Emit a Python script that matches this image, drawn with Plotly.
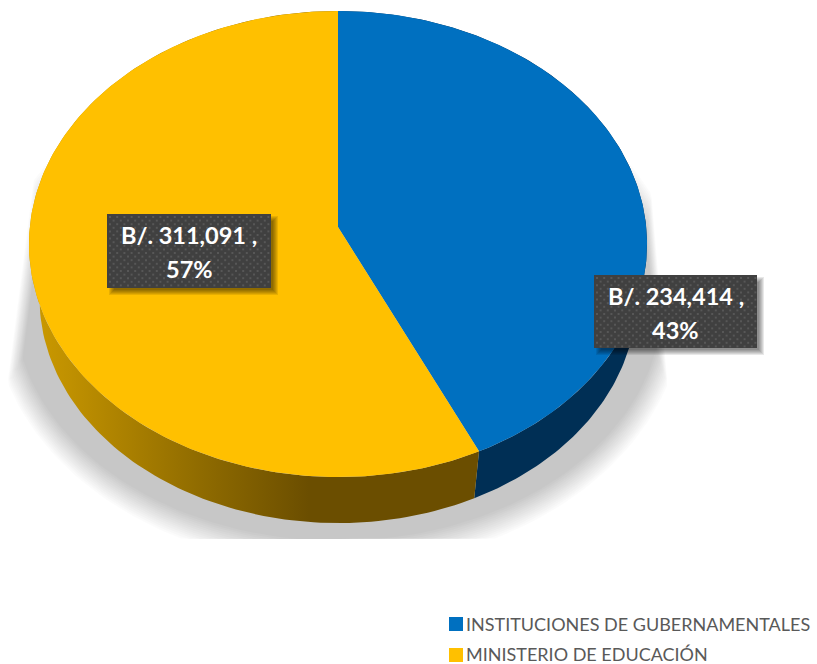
import numpy as np
import plotly.graph_objects as go

categories = ["INSTITUCIONES DE GUBERNAMENTALES", "MINISTERIO DE EDUCACIÓN"]
values = [234414, 311091]
top_colors = ["#0070C0", "#FFC000"]
FW, FH = 817, 664

# projected pie geometry (pixels on identity axes)
AX, AY = 338.0, 227.0
A, B, K = 308.2, 231.8, 0.073
BOT_AY, BOT_S = 281.5, 0.966


def rim(t, bottom=False):
    u, v = np.sin(t), np.cos(t)
    w = 1 + K * v
    X, Y = A * u / w, -B * v / w
    if bottom:
        return AX + BOT_S * X, BOT_AY + BOT_S * Y
    return AX + X, AY + Y


total = sum(values)
fracs = [v / total for v in values]
edges = np.cumsum([0] + fracs) * 2 * np.pi
fig = go.Figure()


def poly(x, y, color, name=None, **kw):
    fig.add_trace(go.Scatter(x=list(x), y=list(y), mode="lines", fill="toself",
                             fillcolor=color, line=dict(width=0), hoverinfo="skip",
                             showlegend=False, name=name, **kw))


# soft shadow under the pie: stacked translucent clipped ellipses
N = 14
tt = np.linspace(0, 2 * np.pi, 241)
for i in range(N):
    f = i / (N - 1)
    rx, ry = 346 - 22 * f, 262 - 26 * f
    cx, cy = 338, 305
    x = cx + rx * np.sin(tt)
    y = cy + ry * np.cos(tt)
    y = np.clip(y, 160 + 20 * f, 539)
    xl = np.maximum(35 - 0.13 * (y - 170) + 12 * f, 8 + 12 * f)
    xr = 649 + 0.085 * (y - 165) - 8 * f
    x = np.minimum(np.maximum(x, xl), xr)
    poly(x, y, "rgba(0,0,0,0.017)")

# side walls
side_scales = [
    [[0, "#001F3A"], [1, "#002F55"]],
    [[0, "#CC9A00"], [0.09, "#BF9000"], [0.38, "#8F6B00"], [0.62, "#6B4E00"], [1, "#6B4E00"]],
]
for i in range(2):
    t = np.linspace(edges[i], edges[i + 1], 160)
    xa, ya = rim(t)
    xb, yb = rim(t, True)
    x = np.concatenate([xa, xb[::-1], xa[:1]])
    y = np.concatenate([ya, yb[::-1], ya[:1]])
    if i == 0:
        poly(x, y, "#002F55")
    else:
        fig.add_trace(go.Scatter(
            x=list(x), y=list(y), mode="lines", fill="toself", line=dict(width=0),
            hoverinfo="skip", showlegend=False,
            fillgradient=dict(type="horizontal", start=30, stop=480, colorscale=side_scales[1])))

# top face
for i in range(2):
    t = np.linspace(edges[i], edges[i + 1], 240)
    xa, ya = rim(t)
    poly(np.concatenate([[AX], xa, [AX]]), np.concatenate([[AY], ya, [AY]]),
         top_colors[i], name=categories[i])

# data labels
boxes = [(594, 275, 757, 348), (107, 214, 271, 288)]
for i, (x0, y0, x1, y1) in enumerate(boxes):
    for s in range(6):
        d = 3 - s
        sx0, sx1 = x0 + 5 - d, x1 + 4 + d
        sy0, sy1 = y0 + 5 - d, y1 + 4 + d
        poly([sx0, sx1, sx1, sx0, sx0], [sy0, sy0, sy1, sy1, sy0], "rgba(0,0,0,0.09)")
    poly([x0, x1, x1, x0, x0], [y0, y0, y1, y1, y0], "#404040")
    dx, dy = [], []
    for r, yy in enumerate(np.arange(y0 + 3, y1 - 1, 3.6)):
        for xx in np.arange(x0 + 3 + (r % 2) * 3.6, x1 - 1, 7.2):
            dx.append(xx)
            dy.append(yy)
    fig.add_trace(go.Scatter(x=dx, y=dy, mode="markers", hoverinfo="skip", showlegend=False,
                             marker=dict(symbol="square", size=2, color="#575757", line=dict(width=0))))
    pct = round(fracs[i] * 100)
    for txt, yy in ((f"B/. {values[i]:,} ,", y0 + 21), (f"{pct}%", y0 + 55)):
        fig.add_annotation(x=(x0 + x1) / 2, y=yy, text=txt, showarrow=False, align="center",
                           font=dict(family="Lato", size=23.5, color="#FFFFFF", weight="bold"))

# legend
leg_y = [624, 655]
text_y = [624, 653.5]
fig.add_trace(go.Scatter(x=[456, 456], y=leg_y, mode="markers", hoverinfo="skip", showlegend=False,
                         marker=dict(symbol="square", size=14, color=top_colors, line=dict(width=0))))
for c, yy in zip(categories, text_y):
    fig.add_annotation(x=466, y=yy, text=c, showarrow=False, xanchor="left", yanchor="middle",
                       xshift=-1, borderpad=0,
                       font=dict(family="Lato", size=18, color="#595959"))

fig.update_layout(
    width=FW, height=FH, margin=dict(l=0, r=0, t=0, b=0), autosize=False,
    paper_bgcolor="white", plot_bgcolor="white", showlegend=False,
    xaxis=dict(range=[0, FW], visible=False, fixedrange=True),
    yaxis=dict(range=[FH, 0], visible=False, fixedrange=True),
)
fig.write_html("out.html", config=dict(displayModeBar=False),
               post_script="document.body.style.margin='0';document.body.style.overflow='hidden';")
